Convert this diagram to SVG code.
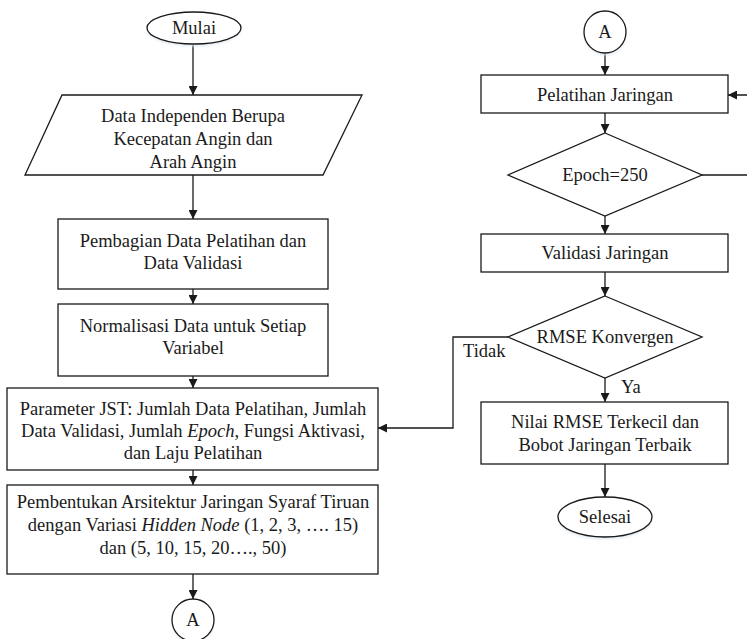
<svg xmlns="http://www.w3.org/2000/svg" width="747" height="639" viewBox="0 0 747 639">
  <style>
    .shape { fill: #ffffff; stroke: #1a1a1a; stroke-width: 1.3; }
    .line { fill: none; stroke: #1a1a1a; stroke-width: 1.3; }
    .txt { font-family: "Liberation Serif", "Times New Roman", serif; font-size: 18.5px; fill: #1a1a1a; text-anchor: middle; }
    .lbl { font-family: "Liberation Serif", "Times New Roman", serif; font-size: 18.5px; fill: #1a1a1a; }
    .glow { fill: #dfe7f2; filter: url(#soft); }
  </style>
  <defs>
    <marker id="arrow" viewBox="0 0 10 10" refX="10" refY="5" markerWidth="9" markerHeight="9" markerUnits="userSpaceOnUse" orient="auto">
      <path d="M0,0 L10,5 L0,10 Z" fill="#1a1a1a"/>
    </marker>
    <filter id="soft" x="-20%" y="-20%" width="140%" height="160%">
      <feGaussianBlur stdDeviation="1.5"/>
    </filter>
  </defs>

  <rect width="747" height="639" fill="#ffffff"/>

  <!-- connectors -->
  <g id="connectors">
    <path class="line" d="M193,44 V95" marker-end="url(#arrow)"/>
    <path class="line" d="M193,175 V219" marker-end="url(#arrow)"/>
    <path class="line" d="M193,289 V304" marker-end="url(#arrow)"/>
    <path class="line" d="M193,376 V388" marker-end="url(#arrow)"/>
    <path class="line" d="M193,470 V485" marker-end="url(#arrow)"/>
    <path class="line" d="M193,574 V599" marker-end="url(#arrow)"/>
    <path class="line" d="M605,53 V75" marker-end="url(#arrow)"/>
    <path class="line" d="M605,113 V133" marker-end="url(#arrow)"/>
    <path class="line" d="M702,175 H748 V95 H728" marker-end="url(#arrow)"/>
    <path class="line" d="M605,216 V234" marker-end="url(#arrow)"/>
    <path class="line" d="M605,272 V296" marker-end="url(#arrow)"/>
    <path class="line" d="M508,337 H453 V428 H378" marker-end="url(#arrow)"/>
    <path class="line" d="M605,378 V402" marker-end="url(#arrow)"/>
    <path class="line" d="M605,464 V497" marker-end="url(#arrow)"/>
    <text class="lbl" x="463" y="357">Tidak</text>
    <text class="lbl" x="621" y="393">Ya</text>
  </g>

  <!-- left column -->
  <g id="mulai">
    <ellipse class="glow" cx="194" cy="30" rx="47" ry="16"/>
    <ellipse class="shape" cx="194" cy="28" rx="47" ry="16"/>
    <text class="txt" x="194" y="34">Mulai</text>
  </g>

  <g id="data-input">
    <polygon class="shape" points="62,95 362,95 323,175 25,175"/>
    <text class="txt" x="193" y="122">Data Independen Berupa</text>
    <text class="txt" x="193" y="145">Kecepatan Angin dan</text>
    <text class="txt" x="193" y="168">Arah Angin</text>
  </g>

  <g id="pembagian">
    <rect class="shape" x="58" y="219" width="270" height="70"/>
    <text class="txt" x="193" y="247">Pembagian Data Pelatihan dan</text>
    <text class="txt" x="193" y="269">Data Validasi</text>
  </g>

  <g id="normalisasi">
    <rect class="shape" x="58" y="304" width="270" height="72"/>
    <text class="txt" x="193" y="332">Normalisasi Data untuk Setiap</text>
    <text class="txt" x="193" y="354">Variabel</text>
  </g>

  <g id="parameter">
    <rect class="shape" x="7" y="388" width="371" height="82"/>
    <text class="txt" x="193" y="415">Parameter JST: Jumlah Data Pelatihan, Jumlah</text>
    <text class="txt" x="193" y="437">Data Validasi, Jumlah <tspan font-style="italic">Epoch</tspan>, Fungsi Aktivasi,</text>
    <text class="txt" x="193" y="459">dan Laju Pelatihan</text>
  </g>

  <g id="arsitektur">
    <rect class="shape" x="7" y="485" width="371" height="89"/>
    <text class="txt" x="193" y="508">Pembentukan Arsitektur Jaringan Syaraf Tiruan</text>
    <text class="txt" x="193" y="531">dengan Variasi <tspan font-style="italic">Hidden Node</tspan> (1, 2, 3, …. 15)</text>
    <text class="txt" x="193" y="554">dan (5, 10, 15, 20…., 50)</text>
  </g>

  <g id="konektor-a-bawah">
    <circle class="glow" cx="193" cy="622" r="21"/>
    <circle class="shape" cx="193" cy="620" r="21"/>
    <text class="txt" x="193" y="626">A</text>
  </g>

  <!-- right column -->
  <g id="konektor-a-atas">
    <circle class="glow" cx="605" cy="34" r="21"/>
    <circle class="shape" cx="605" cy="32" r="21"/>
    <text class="txt" x="605" y="38">A</text>
  </g>

  <g id="pelatihan">
    <rect class="shape" x="481" y="75" width="247" height="38"/>
    <text class="txt" x="605" y="101">Pelatihan Jaringan</text>
  </g>

  <g id="epoch">
    <polygon class="shape" points="605,133 702,175 605,216 508,175"/>
    <text class="txt" x="605" y="181">Epoch=250</text>
  </g>

  <g id="validasi">
    <rect class="shape" x="481" y="234" width="247" height="38"/>
    <text class="txt" x="605" y="259">Validasi Jaringan</text>
  </g>

  <g id="rmse">
    <polygon class="shape" points="605,296 702,337 605,378 508,337"/>
    <text class="txt" x="605" y="343">RMSE Konvergen</text>
  </g>

  <g id="hasil">
    <rect class="shape" x="481" y="402" width="247" height="62"/>
    <text class="txt" x="605" y="428">Nilai RMSE Terkecil dan</text>
    <text class="txt" x="605" y="451">Bobot Jaringan Terbaik</text>
  </g>

  <g id="selesai">
    <ellipse class="glow" cx="605" cy="519" rx="47" ry="20"/>
    <ellipse class="shape" cx="605" cy="517" rx="47" ry="20"/>
    <text class="txt" x="605" y="523">Selesai</text>
  </g>
</svg>
